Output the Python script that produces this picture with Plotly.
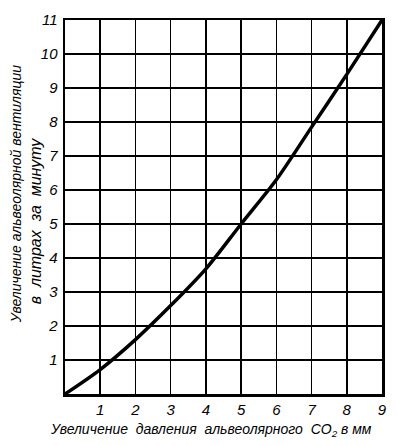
import plotly.graph_objects as go

# Data
x_vals = [0, 1, 2, 3, 4, 5, 6, 7, 8, 9]
y_vals = [0, 0.72, 1.6, 2.6, 3.68, 5.0, 6.3, 7.85, 9.4, 11.0]

x_ticks = [1, 2, 3, 4, 5, 6, 7, 8, 9]
y_ticks = [1, 2, 3, 4, 5, 6, 7, 8, 9, 10, 11]

x_title = "Увеличение  давления  альвеолярного  CO<sub>2</sub> в мм"
y_title_1 = "Увеличение альвеолярной вентиляции"
y_title_2 = "в  литрах  за  минуту"

FONT = "Liberation Sans, Arial, sans-serif"

fig = go.Figure()
fig.add_trace(go.Scatter(
    x=x_vals, y=y_vals, mode="lines",
    line=dict(color="black", width=3.5, shape="spline", smoothing=0.8),
    showlegend=False, hoverinfo="skip",
))

fig.update_layout(
    width=398, height=446,
    margin=dict(l=65, r=11, t=12, b=52),
    paper_bgcolor="white", plot_bgcolor="white",
    font=dict(family=FONT, color="black", size=14, style="italic"),
    xaxis=dict(
        range=[0, 9], tickvals=x_ticks, ticktext=[str(v) for v in x_ticks],
        showgrid=True, gridcolor="black", gridwidth=1.6,
        showline=True, linecolor="black", linewidth=2.5, mirror=True,
        zeroline=False, ticks="", ticklabelstandoff=0,
        tickfont=dict(size=15, family=FONT, style="italic"),
        fixedrange=True,
    ),
    yaxis=dict(
        range=[0, 11], tickvals=y_ticks, ticktext=[str(v) for v in y_ticks],
        showgrid=True, gridcolor="black", gridwidth=1.6,
        showline=True, linecolor="black", linewidth=2.5, mirror=True,
        zeroline=False, ticks="", ticklabelstandoff=2,
        tickfont=dict(size=15, family=FONT, style="italic"),
        fixedrange=True,
    ),
    annotations=[
        dict(text=x_title, xref="paper", yref="paper", x=0.46, y=-0.068,
             xanchor="center", yanchor="top", showarrow=False,
             font=dict(size=14, family=FONT, style="italic")),
        dict(text=y_title_1, xref="paper", yref="paper", x=-0.155, y=0.534,
             xanchor="center", yanchor="middle", textangle=-90, showarrow=False,
             font=dict(size=14, family=FONT, style="italic")),
        dict(text=y_title_2, xref="paper", yref="paper", x=-0.093, y=0.463,
             xanchor="center", yanchor="middle", textangle=-90, showarrow=False,
             font=dict(size=16, family=FONT, style="italic")),
    ],
)

fig.write_html(
    "out.html",
    config={"displayModeBar": False, "staticPlot": True},
    post_script="document.body.style.margin='0';document.body.style.overflow='hidden';",
)
